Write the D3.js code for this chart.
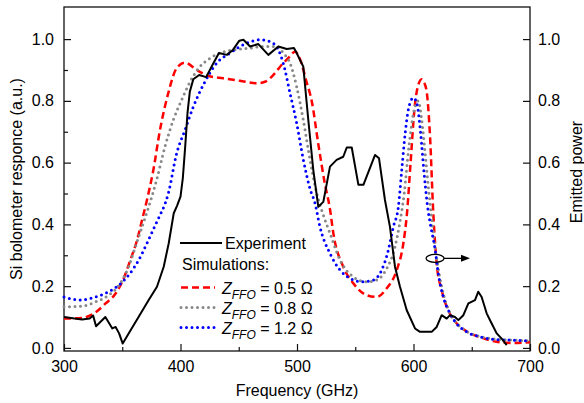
<!DOCTYPE html>
<html>
<head>
<meta charset="utf-8">
<script src="https://cdn.jsdelivr.net/npm/d3@7"></script>
<style>
  body { margin: 0; background: #fff; }
  svg text { font-family: "Liberation Sans", Arial, sans-serif; fill: #000; }
</style>
</head>
<body>
<div id="chart"></div>
<script>
// measured spectrum (GHz, a.u.)
const expFreq = [300, 309, 315.5, 322, 325, 327.5, 335.5, 341.5, 344.3, 347.3, 350.4, 355.5, 364, 372.7, 379.8, 385.6, 389.9, 394.2, 397, 400, 402, 404, 406, 408, 411, 416, 422, 428, 433, 439.7, 445, 450.5, 454, 459.7, 466.8, 475.4, 484, 491.2, 497.4, 499.7, 505.4, 509.7, 514, 518.3, 522.6, 528.3, 534, 539.7, 542.7, 547, 552.7, 557, 567, 570.4, 575.5, 579.8, 584.1, 588.4, 594.2, 601.3, 605.6, 615.6, 619.9, 624.2, 628.5, 631.3, 635.6, 638.5, 642.8, 647.1, 652.8, 655.6, 658.5, 662.8, 667.1, 671.4, 675.7, 680];
const expVal = [0.10, 0.095, 0.092, 0.095, 0.105, 0.07, 0.10, 0.063, 0.068, 0.047, 0.014, 0.047, 0.10, 0.155, 0.198, 0.263, 0.339, 0.436, 0.46, 0.49, 0.55, 0.65, 0.76, 0.83, 0.87, 0.884, 0.877, 0.92, 0.955, 0.949, 0.965, 0.995, 0.998, 0.976, 0.984, 0.949, 0.976, 0.968, 0.971, 0.955, 0.911, 0.738, 0.576, 0.457, 0.473, 0.587, 0.609, 0.619, 0.649, 0.649, 0.528, 0.528, 0.625, 0.614, 0.479, 0.392, 0.263, 0.198, 0.122, 0.063, 0.052, 0.052, 0.068, 0.106, 0.095, 0.106, 0.10, 0.09, 0.106, 0.144, 0.155, 0.182, 0.165, 0.112, 0.079, 0.047, 0.03, 0.009];

// simulations, Z_FFO = 0.5 Ohm
const sim05Freq = [300, 315, 327, 335.7, 344.3, 351.2, 356.9, 362.7, 367, 371.2, 376.7, 382.4, 389.5, 396.7, 403.9, 413.9, 423.9, 436.7, 451, 465.4, 472.5, 479.7, 486.9, 494, 498.3, 502.6, 508.3, 512.6, 518.3, 524, 528.3, 531.2, 539.7, 548.4, 559.8, 568.4, 577, 585.6, 591.3, 594.5, 597.5, 601, 604, 607, 609, 611.3, 614.2, 617, 620, 624, 630, 637, 645, 657, 671, 686, 700];
const sim05Val = [0.095, 0.097, 0.115, 0.144, 0.176, 0.225, 0.284, 0.349, 0.414, 0.479, 0.576, 0.706, 0.825, 0.906, 0.924, 0.90, 0.881, 0.873, 0.865, 0.857, 0.862, 0.884, 0.917, 0.944, 0.96, 0.935, 0.86, 0.80, 0.66, 0.53, 0.45, 0.371, 0.263, 0.209, 0.171, 0.165, 0.193, 0.252, 0.339, 0.44, 0.60, 0.78, 0.85, 0.87, 0.86, 0.83, 0.684, 0.436, 0.27, 0.19, 0.12, 0.08, 0.055, 0.035, 0.02, 0.016, 0.018];

// Z_FFO = 0.8 Ohm
const sim08Freq = [300, 315.5, 327, 338.4, 348.3, 355.5, 361.2, 367, 372.7, 379.5, 386.7, 393.8, 401, 408.2, 416.7, 425.3, 433.9, 445.3, 459.7, 471, 482.6, 488.2, 494, 499.7, 505.4, 511.2, 517, 522.6, 528.3, 537, 548.4, 559.8, 568.4, 577, 584.1, 588, 592, 596, 600, 604, 607, 610, 612.8, 615.6, 619, 622, 626, 631, 637, 645, 657, 671, 686, 700];
const sim08Val = [0.133, 0.135, 0.149, 0.171, 0.209, 0.263, 0.327, 0.392, 0.457, 0.544, 0.652, 0.738, 0.803, 0.862, 0.911, 0.938, 0.955, 0.965, 0.971, 0.976, 0.976, 0.955, 0.922, 0.846, 0.738, 0.609, 0.50, 0.43, 0.371, 0.284, 0.23, 0.214, 0.22, 0.257, 0.327, 0.40, 0.50, 0.65, 0.76, 0.80, 0.74, 0.63, 0.52, 0.42, 0.31, 0.24, 0.17, 0.115, 0.08, 0.055, 0.037, 0.028, 0.025, 0.023];

// Z_FFO = 1.2 Ohm
const sim12Freq = [300, 314, 327, 338.4, 347, 355.5, 364, 371.2, 378.4, 382.4, 387, 389.5, 396.7, 403.9, 411, 419.6, 431, 442.5, 456.8, 468.2, 476.8, 484, 488.2, 494, 499.7, 505.4, 511.2, 515.5, 519.7, 528.3, 537, 545.5, 555.5, 565.5, 572.7, 578.4, 582.7, 587, 590, 593, 596, 600, 603, 606, 609, 612, 615, 618.5, 621.3, 625.6, 631.3, 637, 645.6, 657.1, 671.4, 685.6, 700];
const sim12Val = [0.165, 0.155, 0.165, 0.182, 0.203, 0.236, 0.284, 0.339, 0.398, 0.43, 0.47, 0.50, 0.63, 0.706, 0.781, 0.852, 0.922, 0.955, 0.987, 0.998, 0.992, 0.965, 0.922, 0.825, 0.728, 0.61, 0.515, 0.468, 0.392, 0.306, 0.252, 0.225, 0.214, 0.22, 0.252, 0.317, 0.392, 0.457, 0.58, 0.70, 0.78, 0.81, 0.79, 0.70, 0.57, 0.46, 0.39, 0.32, 0.24, 0.165, 0.112, 0.079, 0.052, 0.036, 0.027, 0.025, 0.023];

const yTicks = [0, 0.2, 0.4, 0.6, 0.8, 1.0];
const xTicks = [300, 400, 500, 600, 700];
const simLabels = ["0.5", "0.8", "1.2"];
// ellipse marks the curves, arrow points to the right axis
const markerAt = [618.5, 0.29];
const arrowTo = 648.5;

const width = 584, height = 403,
      margin = ({ top: 7, right: 54, bottom: 52, left: 64 });

let svg = d3.select("#chart")
    .append("svg")
    .attr("width", width)
    .attr("height", height);

let x = d3.scaleLinear()
    .domain([300, 700])
    .range([margin.left, width - margin.right]);

let y = d3.scaleLinear()
    .domain([-0.01, 1.104])
    .range([height - margin.bottom, margin.top]);

// frame
svg.append("rect")
    .attr("x", x(300)).attr("y", y(1.104))
    .attr("width", x(700) - x(300))
    .attr("height", y(-0.01) - y(1.104))
    .attr("fill", "none")
    .attr("stroke", "#111")
    .attr("stroke-width", 1.3);

// axes, ticks inward
function tidy(g) {
    g.select(".domain").remove();
    g.selectAll("line").attr("stroke", "#111").attr("stroke-width", 1.2);
    g.selectAll("text").attr("font-size", 16).attr("fill", "#000")
        .attr("font-family", "Liberation Sans, Arial, sans-serif");
}

let bottom = svg.append("g")
    .attr("transform", `translate(0,${y(-0.01)})`)
    .call(d3.axisBottom(x).tickValues(d3.range(300, 701, 50))
        .tickSize(-7).tickPadding(10)
        .tickFormat(d => xTicks.includes(d) ? d : ""));
tidy(bottom);
bottom.selectAll(".tick line").filter(d => !xTicks.includes(d)).attr("y2", -4);
bottom.selectAll("text").attr("dy", "0.71em").attr("y", 10);

let left = svg.append("g")
    .attr("transform", `translate(${x(300)},0)`)
    .call(d3.axisLeft(y).tickValues(d3.range(0, 1.05, 0.1))
        .tickSize(-7).tickPadding(10)
        .tickFormat((d, i) => i % 2 == 0 ? d3.format(".1f")(d) : ""));
tidy(left);
left.selectAll(".tick line").filter((d, i) => i % 2 == 1).attr("x2", 4);

let right = svg.append("g")
    .attr("transform", `translate(${x(700)},0)`)
    .call(d3.axisRight(y).tickValues(yTicks)
        .tickSize(-7).tickPadding(8)
        .tickFormat(d3.format(".1f")));
tidy(right);

// axis titles
svg.append("text")
    .attr("x", (x(300) + x(700)) / 2)
    .attr("y", 396)
    .attr("text-anchor", "middle")
    .attr("font-size", 16)
    .text("Frequency (GHz)");

svg.append("text")
    .attr("transform", `translate(22,${(y(-0.01) + y(1.104)) / 2}) rotate(-90)`)
    .attr("text-anchor", "middle")
    .attr("font-size", 16)
    .text("Si bolometer responce (a.u.)");

svg.append("text")
    .attr("transform", `translate(582,172) rotate(-90)`)
    .attr("text-anchor", "middle")
    .attr("font-size", 16)
    .text("Emitted power");

// curves
const sims = [
    { f: sim05Freq, v: sim05Val, color: "#ff0000", dash: "7,4", cap: "butt", w: 2.5 },
    { f: sim08Freq, v: sim08Val, color: "#888888", dash: "0,5.5", cap: "round", w: 3 },
    { f: sim12Freq, v: sim12Val, color: "#0000ff", dash: "0,5.5", cap: "round", w: 3 }
];

let smooth = d3.line()
    .x(d => x(d[0]))
    .y(d => y(d[1]))
    .curve(d3.curveMonotoneX);

sims.forEach(s => {
    svg.append("path")
        .datum(d3.zip(s.f, s.v))
        .attr("fill", "none")
        .attr("stroke", s.color)
        .attr("stroke-width", s.w)
        .attr("stroke-dasharray", s.dash)
        .attr("stroke-linecap", s.cap)
        .attr("d", smooth);
});

svg.append("path")
    .datum(d3.zip(expFreq, expVal))
    .attr("fill", "none")
    .attr("stroke", "#000")
    .attr("stroke-width", 2)
    .attr("stroke-linejoin", "round")
    .attr("d", d3.line().x(d => x(d[0])).y(d => y(d[1])));

// marker ellipse + arrow
svg.append("ellipse")
    .attr("cx", x(markerAt[0])).attr("cy", y(markerAt[1]))
    .attr("rx", 9).attr("ry", 4)
    .attr("fill", "none").attr("stroke", "#000").attr("stroke-width", 1.3);

svg.append("line")
    .attr("x1", x(markerAt[0]) + 9).attr("x2", x(arrowTo) - 8)
    .attr("y1", y(markerAt[1])).attr("y2", y(markerAt[1]))
    .attr("stroke", "#000").attr("stroke-width", 1.3);

svg.append("path")
    .attr("d", `M${x(arrowTo)},${y(markerAt[1])} l-9,-3.5 l0,7 z`)
    .attr("fill", "#000");

// legend
let lg = svg.append("g").attr("font-size", 16);

lg.append("line")
    .attr("x1", 180).attr("x2", 222).attr("y1", 243).attr("y2", 243)
    .attr("stroke", "#000").attr("stroke-width", 2);
lg.append("text").attr("x", 225).attr("y", 248.5).text("Experiment");
lg.append("text").attr("x", 182).attr("y", 269.5).text("Simulations:");

sims.forEach((s, i) => {
    let ly = 287.5 + i * 20;
    lg.append("line")
        .attr("x1", 181).attr("x2", 215).attr("y1", ly).attr("y2", ly)
        .attr("stroke", s.color)
        .attr("stroke-width", s.w)
        .attr("stroke-dasharray", s.dash)
        .attr("stroke-linecap", s.cap);
    let t = lg.append("text").attr("x", 222).attr("y", ly + 6);
    t.append("tspan").attr("font-style", "italic").text("Z");
    t.append("tspan").attr("font-style", "italic").attr("font-size", 12)
        .attr("dy", 5).text("FFO");
    t.append("tspan").attr("dy", -5).text(` = ${simLabels[i]} \u03A9`);
});
</script>
</body>
</html>
